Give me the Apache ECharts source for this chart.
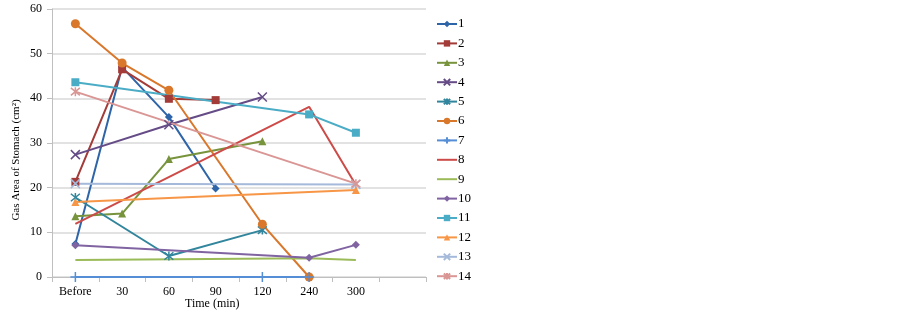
<!DOCTYPE html>
<html>
<head>
<meta charset="utf-8">
<script src="https://cdn.jsdelivr.net/npm/echarts@6/dist/echarts.min.js"></script>
<style>
html, body { margin: 0; padding: 0; background: #fff; }
#chart { width: 903px; height: 313px; }
</style>
</head>
<body>
<div id="chart"></div>
<script>
// categories (last one is the empty slot Excel leaves on the right)
var categories = ['Before', '30', '60', '90', '120', '240', '300', '']

// gas area per patient, null = not measured
var s1 = [7.4, 47, 35.8, 19.8, null, null, null]
var s2 = [21.3, 46.5, 39.9, 39.6, null, null, null]
var s3 = [13.6, 14.2, 26.4, null, 30.4, null, null]
var s4 = [27.4, null, 34.1, null, 40.3, null, null]
var s5 = [17.8, null, 4.7, null, 10.5, null, null]
var s6 = [56.7, 47.9, 41.8, null, 11.8, 0, null]
var s7 = [0, null, null, null, 0, 0, null]
var s8 = [11.9, null, null, null, null, 38.1, 20.6]
var s9 = [3.8, null, null, null, null, 4.2, 3.8]
var s10 = [7.1, null, null, null, null, 4.3, 7.2]
var s11 = [43.6, null, null, null, null, 36.4, 32.3]
var s12 = [16.8, null, null, null, null, null, 19.5]
var s13 = [20.9, null, null, null, null, null, 20.7]
var s14 = [41.5, null, null, null, null, null, 20.9]

var seriesNames = ['1', '2', '3', '4', '5', '6', '7', '8', '9', '10', '11', '12', '13', '14']
var seriesData = [s1, s2, s3, s4, s5, s6, s7, s8, s9, s10, s11, s12, s13, s14]

var colors = ['#2E64A8', '#A33B38', '#77933C', '#654C86', '#31859C', '#D9772B', '#558ED5',
              '#CC4B48', '#9BBB59', '#8064A2', '#4BACC6', '#F79646', '#A5B9DA', '#D99694']

var crossPath = 'path://M0,0L10,10M10,0L0,10'
var starPath = 'path://M0,0L10,10M10,0L0,10M5,-1L5,11'
var plusPath = 'path://M5,0L5,10M0,5L10,5'
var symbols = ['diamond', 'rect', 'triangle', crossPath, starPath, 'circle', plusPath,
               'none', 'none', 'diamond', 'rect', 'triangle', crossPath, starPath]
var symbolSizes = [8, 8, 8, 9, 9, 9, 10, 0, 0, 8, 8, 8, 9, 9]

var serif = 'Liberation Serif'
var chart = echarts.init(document.getElementById('chart'))

var series = seriesNames.map(function (name, i) {
    var stroked = typeof symbols[i] === 'string' && symbols[i].indexOf('path://') === 0
    return {
        name: name,
        type: 'line',
        data: seriesData[i],
        connectNulls: true,
        symbol: symbols[i],
        symbolSize: symbolSizes[i],
        showSymbol: symbols[i] !== 'none',
        lineStyle: { color: colors[i], width: 2 },
        itemStyle: {
            color: colors[i],
            borderColor: colors[i],
            borderWidth: stroked ? 1.5 : 0
        },
        emphasis: { disabled: true },
        animation: false
    }
})

// legend entries, lines 8 and 9 have no marker
var legendData = seriesNames.map(function (name, i) {
    if (symbols[i] === 'none') {
        return { name: name, itemStyle: { opacity: 0 } }
    }
    return { name: name }
})

var option = {
    backgroundColor: '#fff',
    textStyle: { fontFamily: serif },
    grid: { left: 52, top: 9, width: 374, height: 268 },
    legend: {
        orient: 'vertical',
        left: 431,
        top: 12,
        height: 300,
        itemWidth: 20,
        itemHeight: 8,
        itemGap: 5.4,
        data: legendData,
        textStyle: { fontFamily: serif, fontSize: 13, lineHeight: 14, color: '#000', padding: [0, 0, 0, -4] }
    },
    xAxis: {
        type: 'category',
        data: categories,
        boundaryGap: true,
        axisLine: { lineStyle: { color: '#BFBFBF', width: 1 } },
        axisTick: { show: true, length: 5, lineStyle: { color: '#BFBFBF' } },
        axisLabel: { color: '#000', fontFamily: serif, fontSize: 12, margin: 9 },
        splitLine: { show: false }
    },
    yAxis: {
        type: 'value',
        min: 0,
        max: 60,
        interval: 10,
        axisLine: { show: true, lineStyle: { color: '#BFBFBF', width: 1 } },
        axisTick: { show: true, length: 5, lineStyle: { color: '#BFBFBF' } },
        axisLabel: { color: '#000', fontFamily: serif, fontSize: 12, margin: 10 },
        splitLine: { show: true, lineStyle: { color: '#D9D9D9', width: 1.5 } }
    },
    graphic: [{
        type: 'text',
        left: 185,
        top: 298,
        style: { text: 'Time (min)', font: '12px "Liberation Serif"', fill: '#000' }
    }, {
        type: 'text',
        x: 16,
        y: 160,
        rotation: Math.PI / 2,
        style: {
            text: 'Gas Area of Stomach (cm²)',
            font: '11px "Liberation Serif"',
            fill: '#000',
            align: 'center',
            verticalAlign: 'middle'
        }
    }],
    series: series
}

chart.setOption(option)
</script>
</body>
</html>
